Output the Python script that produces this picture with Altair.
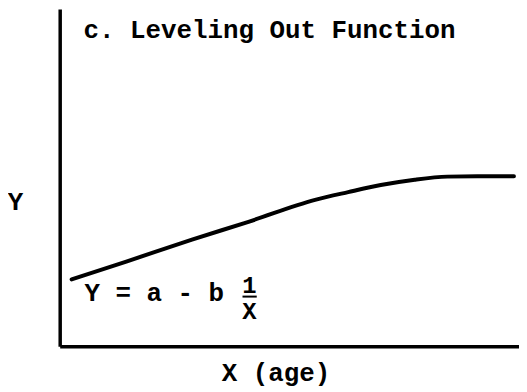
import altair as alt
import pandas as pd

# ---- data ----
curve_x = [2.6, 14.5, 28.8, 41.1, 55.6, 62.8, 69.9, 77.3, 84.4, 90.9, 98.9]
curve_y = [19.8, 25.1, 31.6, 36.9, 43.4, 45.7, 47.8, 49.4, 50.3, 50.4, 50.4]

title_text = "c. Leveling Out Function"
formula_lhs = "Y = a - b"
frac_num = "1"
frac_den = "X"
x_title = "X (age)"
y_title = "Y"

FONT = "Liberation Mono"

curve = pd.DataFrame({"x": curve_x, "y": curve_y})

xs = alt.Scale(domain=[0, 100], nice=False, zero=False)
ys = alt.Scale(domain=[0, 100], nice=False, zero=False)

base_axis_x = alt.Axis(
    title=x_title, ticks=False, labels=False, grid=False,
    domainColor="black", domainWidth=3.5,
    titleFont=FONT, titleFontSize=26, titleFontWeight="bold", titleColor="black",
    titleX=217, titleY=35, titleAlign="center", titleBaseline="alphabetic",
)
base_axis_y = alt.Axis(
    title=y_title, ticks=False, labels=False, grid=False,
    domainColor="black", domainWidth=3.5,
    titleFont=FONT, titleFontSize=26, titleFontWeight="bold", titleColor="black",
    titleAngle=0, titleX=-45, titleY=202, titleAlign="center", titleBaseline="alphabetic",
)

line = alt.Chart(curve).mark_line(
    color="black", strokeWidth=4, strokeCap="round", interpolate="monotone"
).encode(
    x=alt.X("x:Q", scale=xs, axis=base_axis_x),
    y=alt.Y("y:Q", scale=ys, axis=base_axis_y),
)

def text_layer(label, x, y, size, align="left"):
    df = pd.DataFrame({"x": [x], "y": [y], "t": [label]})
    return alt.Chart(df).mark_text(
        font=FONT, fontSize=size, fontWeight="bold", color="black",
        align=align, baseline="alphabetic",
    ).encode(
        x=alt.X("x:Q", scale=xs),
        y=alt.Y("y:Q", scale=ys),
        text="t:N",
    )

title = text_layer(title_text, 5.2, 91.4, 26)
lhs = text_layer(formula_lhs, 5.4, 13.3, 26)
num = text_layer(frac_num, 41.3, 15.9, 24, align="center")
den = text_layer(frac_den, 41.3, 8.0, 24, align="center")

bar_df = pd.DataFrame({"x": [39.8], "x2": [42.9], "y": [14.7]})
bar = alt.Chart(bar_df).mark_rule(color="black", strokeWidth=2).encode(
    x=alt.X("x:Q", scale=xs), x2="x2:Q", y=alt.Y("y:Q", scale=ys)
)

chart = alt.layer(line, title, lhs, num, den, bar).properties(
    width=462,
    height=339,
    autosize=alt.AutoSizeParams(type="none"),
    padding={"left": 52, "top": 0, "right": 0, "bottom": 45},
    background="white",
).configure_view(stroke=None)

chart.save("out.html", embed_options={"renderer": "svg", "actions": False})
